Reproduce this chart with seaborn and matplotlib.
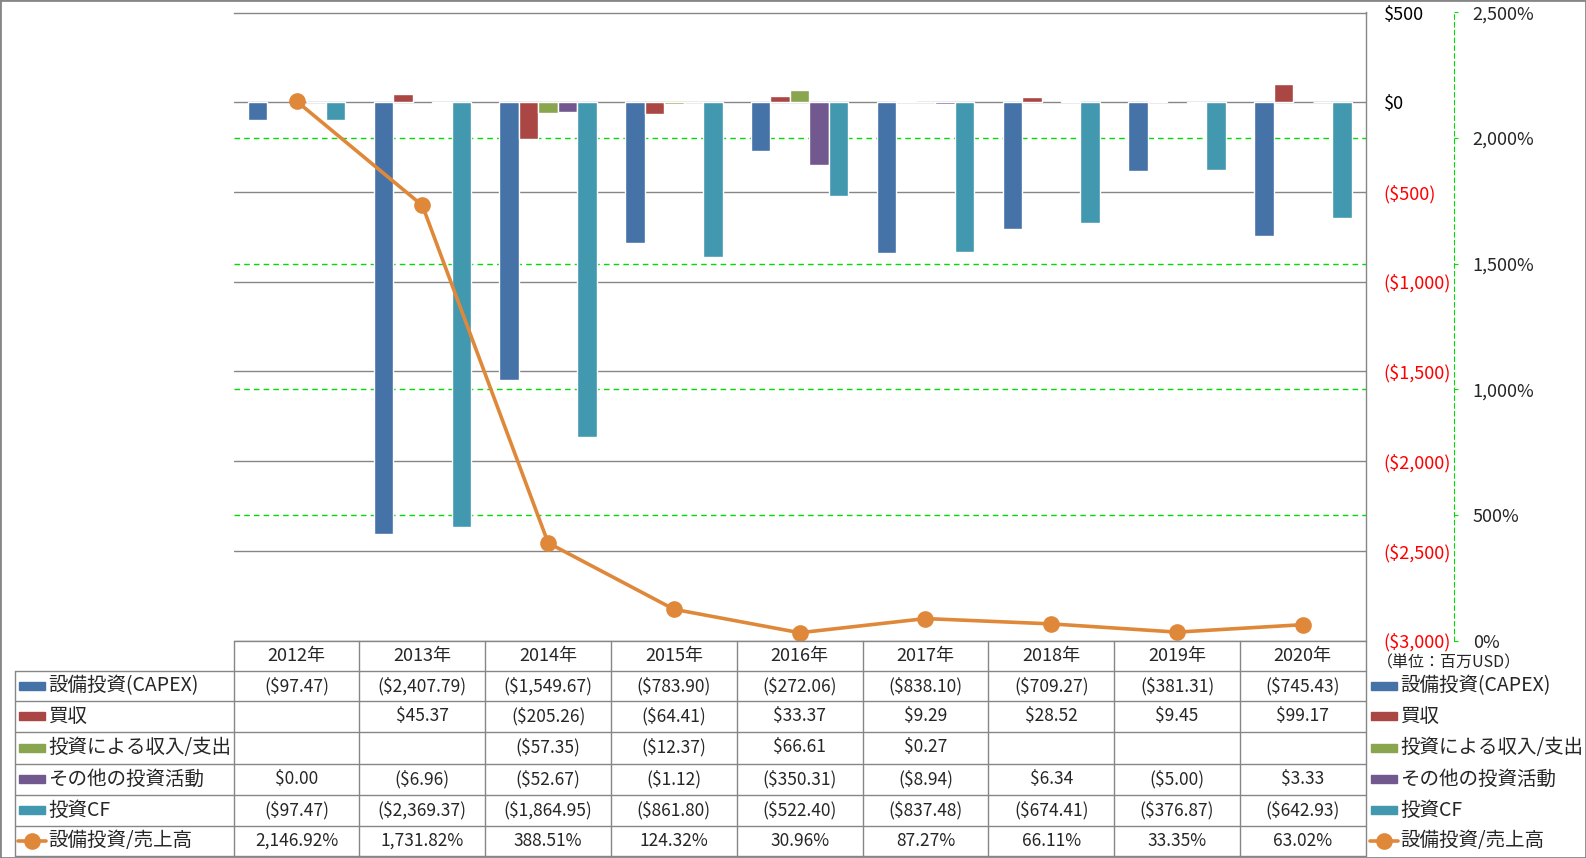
import numpy as np
import pandas as pd
import matplotlib
matplotlib.use("Agg")
import matplotlib.pyplot as plt
import matplotlib.transforms as mtransforms
from matplotlib.patches import Rectangle
from matplotlib.lines import Line2D
import seaborn as sns

# data (百万USD)
years = ["2012年", "2013年", "2014年", "2015年", "2016年", "2017年", "2018年", "2019年", "2020年"]
series_names = ["設備投資(CAPEX)", "買収", "投資による収入/支出", "その他の投資活動", "投資CF"]
capex = [-97.47, -2407.79, -1549.67, -783.90, -272.06, -838.10, -709.27, -381.31, -745.43]
acquisition = [np.nan, 45.37, -205.26, -64.41, 33.37, 9.29, 28.52, 9.45, 99.17]
invest_income = [np.nan, np.nan, -57.35, -12.37, 66.61, 0.27, np.nan, np.nan, np.nan]
other_invest = [0.00, -6.96, -52.67, -1.12, -350.31, -8.94, 6.34, -5.00, 3.33]
invest_cf = [-97.47, -2369.37, -1864.95, -861.80, -522.40, -837.48, -674.41, -376.87, -642.93]
line_name = "設備投資/売上高"
capex_ratio = [2146.92, 1731.82, 388.51, 124.32, 30.96, 87.27, 66.11, 33.35, 63.02]

y_ticks = [500, 0, -500, -1000, -1500, -2000, -2500, -3000]
pct_ticks = [0, 500, 1000, 1500, 2000, 2500]

colors = ["#4572A7", "#AA4643", "#89A54E", "#71588F", "#4198AF"]
line_color = "#E0883A"
grid_gray = "#868686"
green = "#00DD00"

series_values = [capex, acquisition, invest_income, other_invest, invest_cf]
df = pd.DataFrame({
    "year": np.tile(years, len(series_names)),
    "series": np.repeat(series_names, len(years)),
    "value": np.concatenate(series_values),
})

sns.set_style("white")
plt.rcParams["font.family"] = ["Noto Sans CJK JP", "DejaVu Sans"]

W, H = 1586, 858
fig = plt.figure(figsize=(W / 100, H / 100), dpi=100)
PT = 72 / 100  # points per pixel

def fx(px):
    return px / W

def fy(py):
    return 1 - py / H

left, right, top, bottom = 233.7, 1365.7, 12.5, 640.5
ax = fig.add_axes([fx(left), fy(bottom), fx(right - left), (bottom - top) / H])
ax2 = ax.twinx()

sns.barplot(data=df, x="year", y="value", hue="series", order=years, hue_order=series_names,
            palette=colors, width=0.775, saturation=1, errorbar=None, legend=False, ax=ax, zorder=2)
ax.set_xlim(-0.5, len(years) - 0.5)
ax.set_ylim(-3000, 500)
ax.set_xlabel("")
ax.set_ylabel("")
ax.set_xticks([])

# primary axis (right side, labels only)
ax.yaxis.tick_right()
ax.set_yticks(y_ticks)
ax.set_yticklabels([f"${v:,}" if v >= 0 else f"(${-v:,})" for v in y_ticks])
ax.tick_params(axis="y", length=0, pad=18 * PT, labelsize=13)
for lab, v in zip(ax.get_yticklabels(), y_ticks):
    lab.set_color("red" if v < 0 else "black")
ax.yaxis.grid(True, color=grid_gray, linewidth=1)
ax.set_axisbelow(True)
for s in ["left", "bottom"]:
    ax.spines[s].set_visible(False)
for s in ["top", "right"]:
    ax.spines[s].set_color(grid_gray)
    ax.spines[s].set_linewidth(1)

# secondary axis
ax2.set_ylim(0, 2500)
ax2.set_yticks(pct_ticks)
ax2.set_yticklabels([f"{v:,}%" for v in pct_ticks])
ax2.spines["right"].set_position(("outward", 88 * PT))
ax2.spines["right"].set_color(green)
ax2.spines["right"].set_linestyle((0, (4, 3)))
for s in ["left", "top", "bottom"]:
    ax2.spines[s].set_visible(False)
ax2.tick_params(axis="y", direction="out", length=4 * PT, color=green, pad=15 * PT, labelsize=13)

# green dashed grid of secondary axis, behind bars
blend = mtransforms.blended_transform_factory(ax.transAxes, ax2.transData)
for v in pct_ticks[1:-1]:
    ax.plot([0, 1], [v, v], transform=blend, color=green, linewidth=1,
            linestyle=(0, (4, 3)), zorder=1)

sns.lineplot(x=np.arange(len(years)), y=capex_ratio, color=line_color, linewidth=2.6,
             marker="o", markersize=12, markeredgewidth=0, ax=ax2, zorder=5)
ax2.set_xlim(-0.5, len(years) - 0.5)

# data table
col_w = (right - left) / len(years)
row_edges = [640.5, 671, 701, 731.5, 763.5, 795, 825.5, 856]
label_left = 15
line_kw = dict(color=grid_gray, linewidth=1, transform=fig.transFigure)

fig.add_artist(Line2D([fx(left), fx(right)], [fy(row_edges[0])] * 2, **line_kw))
for r in row_edges[1:]:
    fig.add_artist(Line2D([fx(label_left), fx(right)], [fy(r)] * 2, **line_kw))
for k in range(len(years) + 1):
    x = left + k * col_w
    fig.add_artist(Line2D([fx(x)] * 2, [fy(row_edges[0]), fy(row_edges[-1])], **line_kw))
fig.add_artist(Line2D([fx(label_left)] * 2, [fy(row_edges[1]), fy(row_edges[-1])], **line_kw))

def money(v):
    if np.isnan(v):
        return ""
    return f"${v:,.2f}" if v >= 0 else f"(${-v:,.2f})"

for j, yr in enumerate(years):
    cx = left + (j + 0.5) * col_w
    fig.text(fx(cx), fy((row_edges[0] + row_edges[1]) / 2), yr, ha="center", va="center", fontsize=13)

for i, vals in enumerate(series_values + [capex_ratio]):
    cy = (row_edges[i + 1] + row_edges[i + 2]) / 2
    for j, v in enumerate(vals):
        cx = left + (j + 0.5) * col_w
        txt = f"{v:,.2f}%" if i == len(series_values) else money(v)
        fig.text(fx(cx), fy(cy), txt, ha="center", va="center", fontsize=12.5)

# row labels (left, in table) and legend (right)
names = series_names + [line_name]
for x0 in [19, 1371]:
    for i, name in enumerate(names):
        cy = (row_edges[i + 1] + row_edges[i + 2]) / 2
        if i < len(series_names):
            fig.add_artist(Rectangle((fx(x0), fy(cy + 4)), fx(26), 8 / H,
                                     color=colors[i], transform=fig.transFigure))
        else:
            fig.add_artist(Line2D([fx(x0 - 1), fx(x0 + 27)], [fy(cy)] * 2, color=line_color,
                                  linewidth=2.6, transform=fig.transFigure))
            fig.add_artist(Line2D([fx(x0 + 13)], [fy(cy)], color=line_color, marker="o",
                                  markersize=12, markeredgewidth=0, transform=fig.transFigure))
        fig.text(fx(x0 + 29), fy(cy), name, ha="left", va="center", fontsize=14)

fig.text(fx(1377), fy(663), "（単位：百万USD）", ha="left", va="center", fontsize=11.5)

# outer frame
fig.add_artist(Rectangle((0, 0), 1, 1, fill=False, edgecolor=grid_gray, linewidth=2,
                         transform=fig.transFigure))

fig.savefig("out.png", dpi=100)
